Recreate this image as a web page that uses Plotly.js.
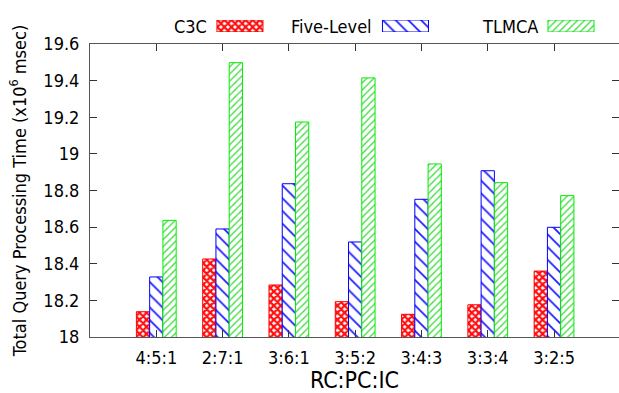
<!DOCTYPE html>
<html>
<head>
<meta charset="utf-8">
<script src="https://cdn.plot.ly/plotly-3.0.1.min.js"></script>
<style>html,body{margin:0;padding:0;background:#fff}#chart{width:619px;height:393px}</style>
</head>
<body>
<div id="chart"></div>
<script>
var categories = ["4:5:1", "2:7:1", "3:6:1", "3:5:2", "3:4:3", "3:3:4", "3:2:5"];
var seriesNames = ["C3C", "Five-Level", "TLMCA"];
var c3c = [18.138, 18.426, 18.284, 18.193, 18.124, 18.176, 18.36];
var fiveLevel = [18.328, 18.59, 18.837, 18.519, 18.752, 18.908, 18.599];
var tlmca = [18.637, 19.498, 19.174, 19.415, 18.945, 18.843, 18.772];
var yTicks = [18, 18.2, 18.4, 18.6, 18.8, 19, 19.2, 19.4, 19.6];
var yTickText = ["18", "18.2", "18.4", "18.6", "18.8", "19", "19.2", "19.4", "19.6"];
var legendSwatch = [1, 1, 1];

var FONT = "DejaVu Sans Condensed, Liberation Sans, sans-serif";
var colors = ["#ff0000", "#0000ff", "#00ee00"];
var patterns = [
  {shape: "x", fgcolor: "#ff1010", bgcolor: "#ffffff", size: 5, solidity: 0.7, fillmode: "replace"},
  {shape: "\\", fgcolor: "#2020ff", bgcolor: "#ffffff", size: 9, solidity: 0.2, fillmode: "replace"},
  {shape: "/", fgcolor: "#44dd44", bgcolor: "#ffffff", size: 5, solidity: 0.28, fillmode: "replace"}
];
var series = [c3c, fiveLevel, tlmca];

var traces = series.map(function (vals, i) {
  return {
    type: "bar",
    name: seriesNames[i],
    x: categories,
    y: vals,
    xaxis: "x",
    yaxis: "y",
    marker: {color: "#ffffff", pattern: patterns[i], line: {color: colors[i], width: 1}},
    showlegend: false,
    hoverinfo: "skip"
  };
});

// custom legend: swatches drawn as bars on a small helper axis
traces.push({
  type: "bar",
  x: seriesNames,
  y: legendSwatch,
  xaxis: "x3",
  yaxis: "y3",
  width: 0.278,
  offset: -0.139,
  marker: {
    color: "#ffffff",
    pattern: {
      shape: patterns.map(function (p) { return p.shape; }),
      fgcolor: patterns.map(function (p) { return p.fgcolor; }),
      bgcolor: "#ffffff",
      size: patterns.map(function (p) { return p.size; }),
      solidity: patterns.map(function (p) { return p.solidity; }),
      fillmode: "replace"
    },
    line: {color: colors, width: 1}
  },
  showlegend: false,
  hoverinfo: "skip"
});

var annotations = seriesNames.map(function (n) {
  return {
    xref: "x3", yref: "y3", x: n, y: 0.5,
    text: n, showarrow: false, xanchor: "right", yanchor: "middle",
    xshift: -31, font: {family: FONT, size: 18, color: "#000"}
  };
});

var layout = {
  width: 619, height: 393,
  margin: {l: 90, r: 0, t: 0, b: 56},
  paper_bgcolor: "#ffffff", plot_bgcolor: "#ffffff",
  barmode: "group", bargap: 0.4, bargroupgap: 0,
  showlegend: false,
  font: {family: FONT, size: 18, color: "#000"},
  xaxis: {
    domain: [0, 1],
    range: [-1, 6.98],
    type: "category",
    tickvals: categories,
    ticks: "inside", ticklen: 7, tickcolor: "#333", tickwidth: 1,
    showline: true, linecolor: "#555", linewidth: 1, mirror: "ticks",
    showgrid: false, zeroline: false,
    ticklabelstandoff: 4,
    tickfont: {family: FONT, size: 18, color: "#000"},
    title: {text: "RC:PC:IC", font: {family: FONT, size: 23, color: "#000"}, standoff: 0},
    automargin: false, fixedrange: true
  },
  yaxis: {
    domain: [0, 0.8694],
    range: [18, 19.6],
    tickvals: yTicks, ticktext: yTickText,
    ticks: "inside", ticklen: 7, tickcolor: "#333", tickwidth: 1,
    showline: true, linecolor: "#555", linewidth: 1, mirror: "ticks",
    showgrid: false, zeroline: false,
    ticklabelstandoff: 6,
    tickfont: {family: FONT, size: 18, color: "#000"},
    title: {text: "Total Query Processing Time (x10<sup>6</sup> msec)", font: {family: FONT, size: 18, color: "#000"}, standoff: 12},
    automargin: false, fixedrange: true
  },
  xaxis3: {
    domain: [0, 1], anchor: "y3", type: "category",
    range: [-0.906, 2.29],
    visible: false, fixedrange: true
  },
  yaxis3: {
    domain: [0.905, 0.9407], anchor: "x3",
    range: [0, 1], visible: false, fixedrange: true
  },
  annotations: annotations
};

Plotly.newPlot("chart", traces, layout, {displayModeBar: false, staticPlot: true});
</script>
</body>
</html>
